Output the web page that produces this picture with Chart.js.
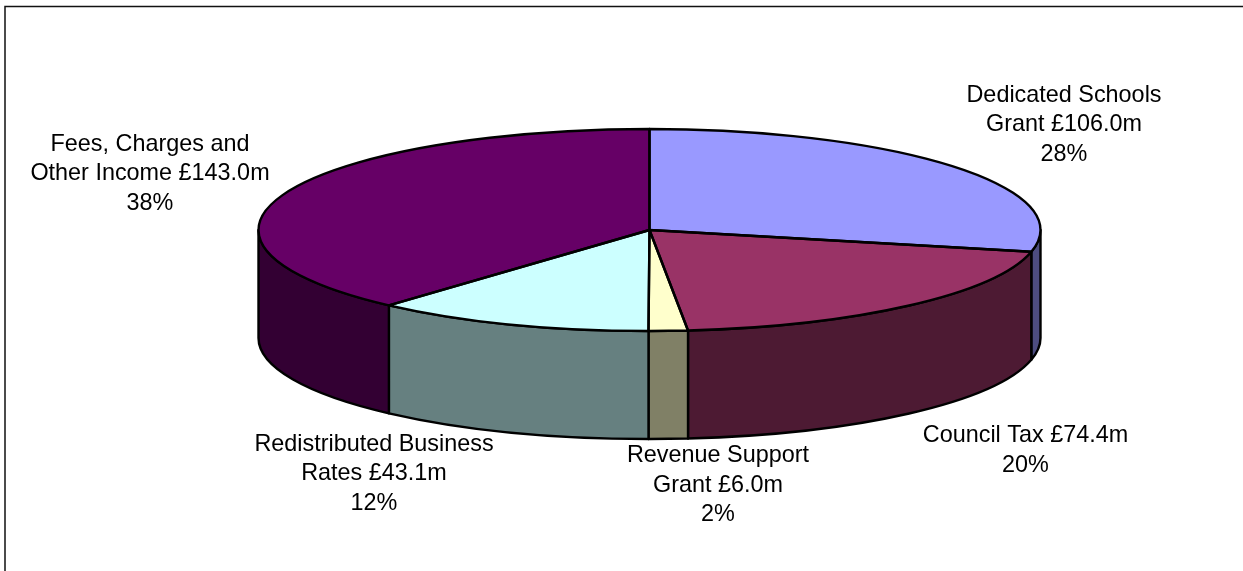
<!DOCTYPE html>
<html>
<head>
<meta charset="utf-8">
<title>Income sources</title>
<style>
  html, body { margin: 0; padding: 0; background: #fff; overflow: hidden; }
  #wrap { position: absolute; left: 0; top: 0; width: 1243px; height: 571px; }
</style>
<script src="https://cdn.jsdelivr.net/npm/chart.js@4/dist/chart.umd.min.js"></script>
</head>
<body>
<div id="wrap"><canvas id="chart" width="1243" height="571"></canvas></div>
<script>
// Income by source, in £ million
const categories = [
  'Dedicated Schools Grant',
  'Council Tax',
  'Revenue Support Grant',
  'Redistributed Business Rates',
  'Fees, Charges and Other Income'
];
const values = [106.0, 74.4, 6.0, 43.1, 143.0];

// Wrapped label text for each slice
const labelLines = [
  ['Dedicated Schools', 'Grant £106.0m'],
  ['Council Tax £74.4m'],
  ['Revenue Support', 'Grant £6.0m'],
  ['Redistributed Business', 'Rates £43.1m'],
  ['Fees, Charges and', 'Other Income £143.0m']
];

const topColours = ['#9999FF', '#993366', '#FFFFCC', '#CCFFFF', '#660066'];
const wallColours = ['#4D4D80', '#4D1A33', '#808066', '#668080', '#330033'];

// Centre of the first line of each label
const labelAnchors = [
  [1064, 95.5],
  [1025.5, 436],
  [718, 456],
  [374, 444.5],
  [150, 144.5]
];

const RADIUS_X = 391;
const RADIUS_Y = 101;
const DEPTH = 108;
const SQUASH = RADIUS_Y / RADIUS_X;
const LINE_HEIGHT = 29.5;
const OUTLINE = 2.4;

function arcsOf(chart) {
  return chart.getDatasetMeta(0).data;
}

// Frame around the chart, running off the right and bottom of the page
const framePlugin = {
  id: 'frame',
  beforeDraw(chart) {
    const ctx = chart.ctx;
    ctx.save();
    ctx.fillStyle = '#fff';
    ctx.fillRect(0, 0, chart.width, chart.height);
    ctx.strokeStyle = '#111';
    ctx.lineWidth = 1.5;
    ctx.beginPath();
    ctx.moveTo(5, chart.height + 2);
    ctx.lineTo(5, 6.5);
    ctx.lineTo(chart.width + 2, 6.5);
    ctx.stroke();
    ctx.restore();
  }
};

// Extrudes the pie: outer walls go underneath, then the library's arcs are
// drawn flattened into an ellipse, then outlines go over them.
const tiltPlugin = {
  id: 'tilt',
  beforeDatasetsDraw(chart) {
    const ctx = chart.ctx;
    ctx.save();
    ctx.lineWidth = OUTLINE;
    ctx.strokeStyle = '#000';
    ctx.lineJoin = 'round';
    arcsOf(chart).forEach((arc, i) => {
      const a0 = Math.max(arc.startAngle, 0);
      const a1 = Math.min(arc.endAngle, Math.PI);
      if (a1 <= a0) return;
      ctx.beginPath();
      ctx.ellipse(arc.x, arc.y, RADIUS_X, RADIUS_Y, 0, a0, a1);
      ctx.ellipse(arc.x, arc.y + DEPTH, RADIUS_X, RADIUS_Y, 0, a1, a0, true);
      ctx.closePath();
      ctx.fillStyle = wallColours[i];
      ctx.fill();
      ctx.stroke();
    });
    ctx.restore();

    const c = arcsOf(chart)[0];
    ctx.save();
    ctx.translate(c.x, c.y);
    ctx.scale(1, SQUASH);
    ctx.translate(-c.x, -c.y);
  },
  afterDatasetsDraw(chart) {
    const ctx = chart.ctx;
    ctx.restore();

    ctx.save();
    ctx.lineWidth = OUTLINE;
    ctx.strokeStyle = '#000';
    ctx.lineJoin = 'round';
    arcsOf(chart).forEach(arc => {
      ctx.beginPath();
      ctx.moveTo(arc.x, arc.y);
      ctx.ellipse(arc.x, arc.y, RADIUS_X, RADIUS_Y, 0, arc.startAngle, arc.endAngle);
      ctx.closePath();
      ctx.stroke();
    });
    ctx.restore();

    // Slice labels: wrapped text, then the rounded share of the total
    const total = values.reduce((a, b) => a + b, 0);
    ctx.save();
    ctx.fillStyle = '#000';
    ctx.font = '23.4px "Liberation Sans", Arial, sans-serif';
    ctx.textAlign = 'center';
    ctx.textBaseline = 'middle';
    labelLines.forEach((lines, i) => {
      const [x, y] = labelAnchors[i];
      const all = lines.concat(Math.round(values[i] / total * 100) + '%');
      all.forEach((t, n) => ctx.fillText(t, x, y + n * LINE_HEIGHT));
    });
    ctx.restore();
  }
};

new Chart(document.getElementById('chart'), {
  type: 'pie',
  data: {
    labels: categories,
    datasets: [{
      data: values,
      backgroundColor: topColours,
      borderWidth: 0
    }]
  },
  options: {
    responsive: false,
    animation: false,
    radius: RADIUS_X,
    layout: { padding: { left: 56, right: 0, top: 0, bottom: 111 } },
    plugins: {
      legend: { display: false },
      tooltip: { enabled: false }
    }
  },
  plugins: [framePlugin, tiltPlugin]
});
</script>
</body>
</html>
